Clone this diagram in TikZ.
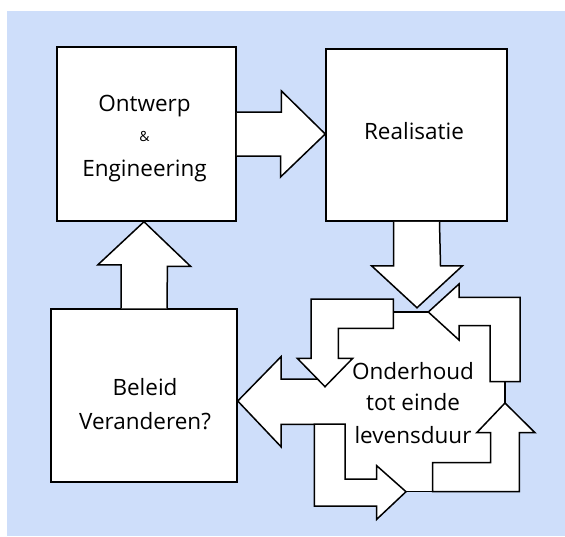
\documentclass[tikz,border=0pt]{standalone}
\usepackage{fontspec}
\setmainfont{Open Sans}
\usetikzlibrary{calc}
\definecolor{achter}{RGB}{206,222,250}

\begin{document}
\begin{tikzpicture}[x=1pt, y=-1pt,
		line width=1.5pt, line join=miter,
		box/.style={draw, fill=white, inner sep=0pt},
		blokpijl/.style={draw, fill=white},
		tekst/.style={anchor=base, inner sep=0pt, font=\fontsize{22.5}{27}\selectfont},
	]

	% achtergrond
	\fill[white] (0,0) rectangle (565,536);
	\fill[achter] (7,11) rectangle (565,536);
	\useasboundingbox (0,0) rectangle (565,536);

	\node[box, minimum width=179pt, minimum height=174pt] (ontwerp) at (146.5,134) {};
	\node[box, minimum width=181pt, minimum height=172pt] (realisatie) at (416.5,135) {};
	\node[box, minimum width=186pt, minimum height=173pt] (beleid) at (144,395.5) {};

	\node[tekst] (t-ontwerp) at (144.5,111.7) {Ontwerp};
	\node[tekst, font=\fontsize{14}{16}\selectfont] (t-en) at (144.5,141) {\&};
	\node[tekst] (t-engineering) at (144.5,176.7) {Engineering};
	\node[tekst] (t-realisatie) at (414,139) {Realisatie};
	\node[tekst] (t-beleid) at (145,395.7) {Beleid};
	\node[tekst] (t-veranderen) at (145,429) {Veranderen?};

	% pijlen tussen de blokken
	\draw[blokpijl] ($(ontwerp.east)+(0,-22)$) -- ++(44.7,0) -- ++(0,-21) -- (realisatie.west |- ontwerp.east) -- ++(-44.7,43) -- ++(0,-21) -- ($(ontwerp.east)+(0,22)$);
	\draw[blokpijl] ($(realisatie.south)+(-23,0)$) -- ++(0,44) -- ++(-22,0) -- ++(45.5,42) -- ++(45.5,-42) -- ++(-22,0) -- ($(realisatie.south)+(23,0)$);
	\draw[blokpijl] ($(beleid.north)+(-23,0)$) -- ++(0,-43.3) -- ++(-23.3,0) -- (beleid.north |- ontwerp.south) -- ++(46.7,44.7) -- ++(-23.3,0) -- ($(beleid.north)+(23,0)$);

	% onderhoud cyclus
	\fill[white] (314,312) rectangle (505,491.7);
	\filldraw[blokpijl] (314,424.3) -- (281,424.3) -- (281,446.7) -- (beleid.east |- 0,401) -- (281,356.7) -- (281,379) -- (325,379);
	\filldraw[blokpijl] (311,299) -- (393.3,299) -- (393.3,328.3) -- (338.3,328.3) -- (338.3,358.3) -- (352.7,358.3) -- (325,386.7) -- (297.3,358.3) -- (311,358.3) -- cycle;
	\filldraw[blokpijl] (428.3,312) -- (459,284) -- (459,297.3) -- (520,297.3) -- (520,381.7) -- (490,381.7) -- (490,325.7) -- (459,325.7) -- (459,340) -- cycle;
	\filldraw[blokpijl] (505,403) -- (535,432.7) -- (519.3,432.7) -- (519.3,491.7) -- (432.7,491.7) -- (432.7,462.7) -- (490.7,462.7) -- (490.7,432.7) -- (476.7,432.7) -- cycle;
	\filldraw[blokpijl] (406,491.7) -- (376.7,519.3) -- (376.7,506) -- (314.3,506) -- (314.3,424) -- (345,424) -- (345,479) -- (376.7,479) -- (376.7,465.7) -- cycle;
	\draw (393.3,312) -- (428.3,312);
	\draw (505,381.7) -- (505,403);
	\draw (406,491.7) -- (432.7,491.7);
	\node[tekst] (t-onderhoud) at (413,379) {Onderhoud};
	\node[tekst] (t-tot) at (413,410) {tot einde};
	\node[tekst] (t-levensduur) at (413,443) {levensduur};

\end{tikzpicture}
\end{document}
